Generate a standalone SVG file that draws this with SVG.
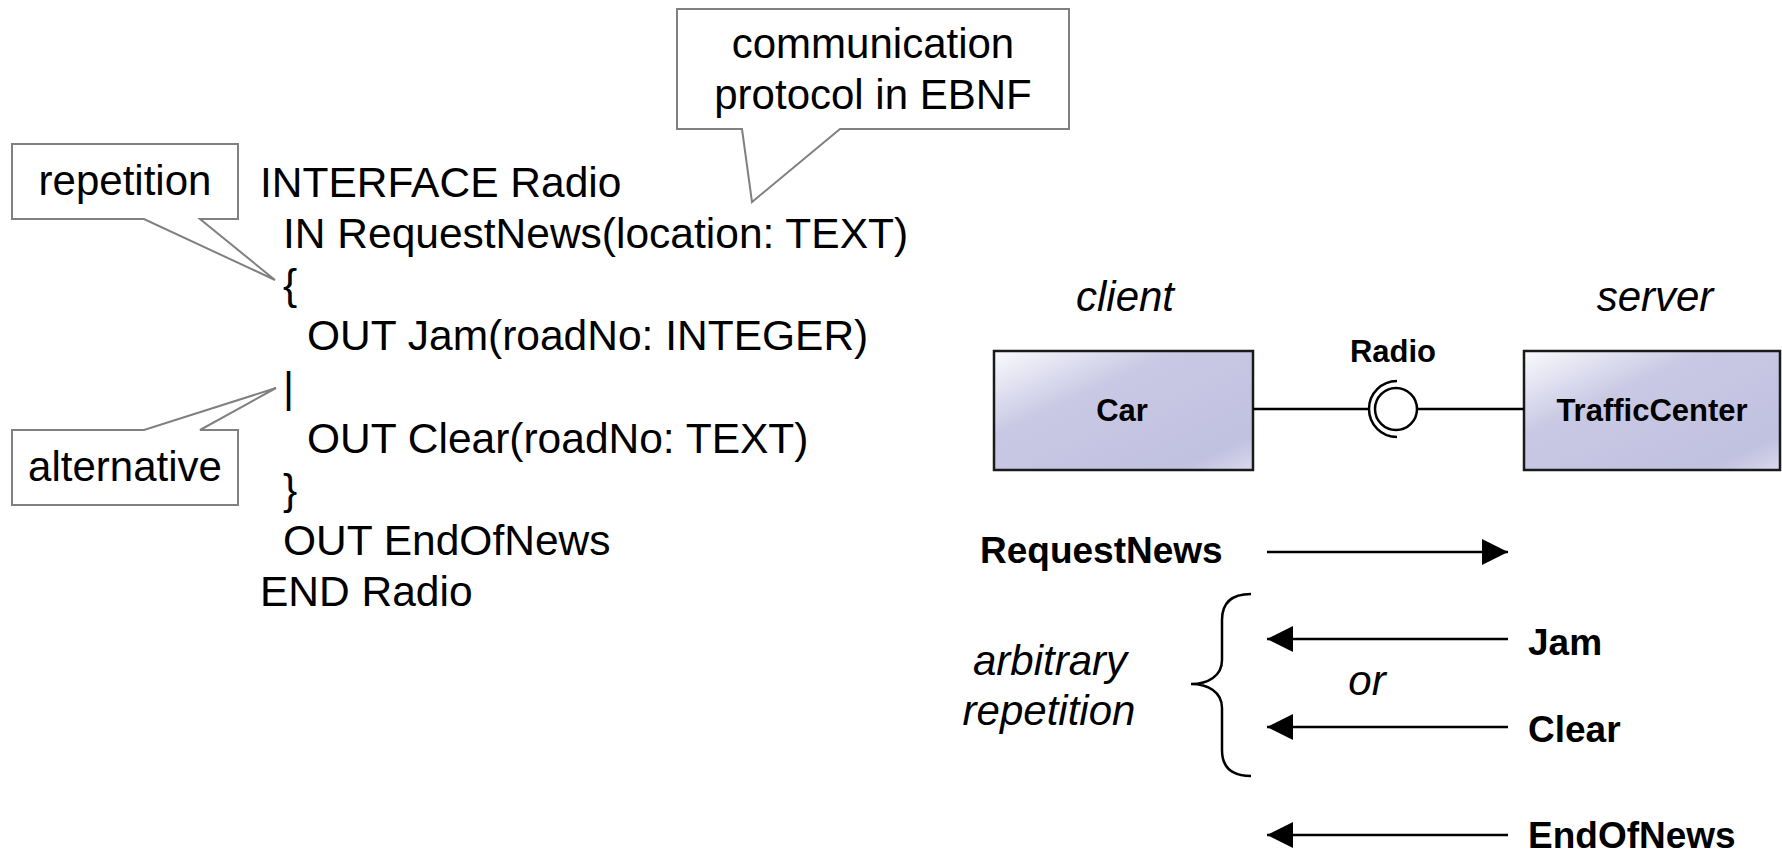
<svg xmlns="http://www.w3.org/2000/svg" width="1782" height="855" viewBox="0 0 1782 855">
<defs>
<linearGradient id="boxfill" x1="0" y1="0" x2="1" y2="1">
<stop offset="0" stop-color="#fafafd"/>
<stop offset="0.35" stop-color="#c9c9e5"/>
<stop offset="0.85" stop-color="#c1c1e0"/>
<stop offset="1" stop-color="#d8d8ed"/>
</linearGradient>
<marker id="arrow" viewBox="0 0 26 26" refX="26" refY="13" markerWidth="26" markerHeight="26" markerUnits="userSpaceOnUse" orient="auto">
<path d="M0,0 L26,13 L0,26 Z" fill="#000"/>
</marker>
<style>
.code{font-family:"Liberation Sans",Arial,sans-serif;font-size:42.5px;fill:#000}
.note{font-family:"Liberation Sans",Arial,sans-serif;font-size:42px;fill:#000;text-anchor:middle}
.it{font-family:"Liberation Sans",Arial,sans-serif;font-size:42px;font-style:italic;fill:#000;text-anchor:middle}
.msg{font-family:"Liberation Sans",Arial,sans-serif;font-size:37px;font-weight:bold;fill:#000}
.comp{font-family:"Liberation Sans",Arial,sans-serif;font-size:31px;font-weight:bold;fill:#000;text-anchor:middle}
.callout{fill:#fff;stroke:#808080;stroke-width:2}
.box{fill:url(#boxfill);stroke:#1a1a1a;stroke-width:2.5}
.conn{stroke:#000;stroke-width:2.5;fill:none}
.arr{stroke:#000;stroke-width:2.5;fill:none;marker-end:url(#arrow)}
</style>
</defs>
<rect width="1782" height="855" fill="#fff"/>

<g id="code">
<text class="code" x="260" y="197">INTERFACE Radio</text>
<text class="code" x="283" y="248">IN RequestNews(location: TEXT)</text>
<text class="code" x="283" y="299">{</text>
<text class="code" x="307" y="350">OUT Jam(roadNo: INTEGER)</text>
<text class="code" x="283" y="402">|</text>
<text class="code" x="307" y="453">OUT Clear(roadNo: TEXT)</text>
<text class="code" x="283" y="504">}</text>
<text class="code" x="283" y="555">OUT EndOfNews</text>
<text class="code" x="260" y="606">END Radio</text>
</g>

<g id="callout-ebnf">
<path class="callout" d="M677,9 H1069 V129 H840 L752,202 L742,129 H677 Z"/>
<text class="note" x="873" y="58">communication</text>
<text class="note" x="873" y="109">protocol in EBNF</text>
</g>

<g id="callout-repetition">
<path class="callout" d="M12,144 H238 V219 H200 L275,280 L144,219 H12 Z"/>
<text class="note" x="125" y="195">repetition</text>
</g>

<g id="callout-alternative">
<path class="callout" d="M12,430 H144 L276,388 L200,430 H238 V505 H12 Z"/>
<text class="note" x="125" y="481">alternative</text>
</g>

<g id="client-label"><text class="it" x="1125" y="311">client</text></g>
<g id="server-label"><text class="it" x="1655" y="311">server</text></g>

<g id="car">
<rect class="box" x="994" y="351" width="259" height="119"/>
<text class="comp" x="1122" y="421">Car</text>
</g>

<g id="trafficcenter">
<rect class="box" x="1524" y="351" width="256" height="119"/>
<text class="comp" x="1652" y="421">TrafficCenter</text>
</g>

<g id="radio-interface">
<circle cx="1396" cy="409" r="21" fill="#fff" stroke="#000" stroke-width="2.5"/>
<path d="M1397,381 A28,28 0 0 0 1397,437" fill="none" stroke="#000" stroke-width="2.5"/>
<text class="comp" x="1393" y="362">Radio</text>
</g>

<g id="connectors">
<line class="conn" x1="1253" y1="409" x2="1368" y2="409"/>
<line class="conn" x1="1417" y1="409" x2="1524" y2="409"/>
<line class="arr" x1="1267" y1="552" x2="1508" y2="552"/>
<line class="arr" x1="1508" y1="639" x2="1267" y2="639"/>
<line class="arr" x1="1508" y1="727" x2="1267" y2="727"/>
<line class="arr" x1="1508" y1="835" x2="1267" y2="835"/>
<path class="conn" stroke-width="2" d="M1251,594 C1232,594 1222,602 1222,620 V660 C1222,676 1208,684 1191,684 C1208,684 1222,692 1222,708 V750 C1222,768 1232,776 1251,776"/>
</g>

<g id="messages">
<text class="msg" x="980" y="563">RequestNews</text>
<text class="msg" x="1528" y="655">Jam</text>
<text class="msg" x="1528" y="742">Clear</text>
<text class="msg" x="1528" y="848">EndOfNews</text>
<text class="it" x="1050" y="675">arbitrary</text>
<text class="it" x="1049" y="725">repetition</text>
<text class="it" x="1367" y="695">or</text>
</g>
</svg>
